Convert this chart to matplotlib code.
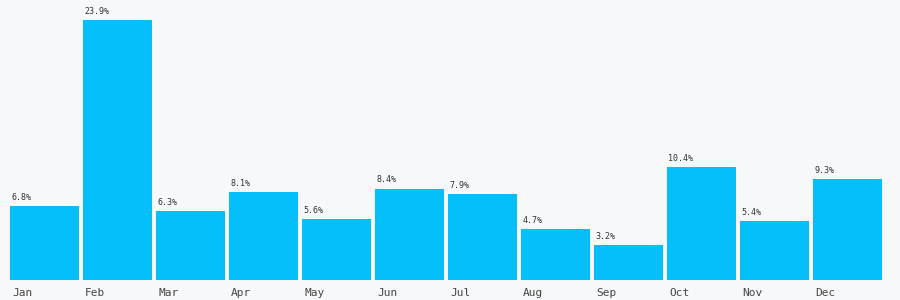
import matplotlib
matplotlib.use("Agg")
import matplotlib.pyplot as plt

months = ["Jan", "Feb", "Mar", "Apr", "May", "Jun",
          "Jul", "Aug", "Sep", "Oct", "Nov", "Dec"]
shares = [6.8, 23.9, 6.3, 8.1, 5.6, 8.4, 7.9, 4.7, 3.2, 10.4, 5.4, 9.3]

bg = "#f7f8fa"
bar_color = "#05bffb"
text_color = "#444444"

fig = plt.figure(figsize=(9, 3), dpi=100, facecolor=bg)
ax = fig.add_axes([10 / 900, 20 / 300, 876 / 900, 260 / 300])
ax.set_facecolor(bg)

x = list(range(len(months)))
ax.bar(x, shares, width=69 / 73, align="edge", color=bar_color, linewidth=0)

for i, (m, v) in enumerate(zip(months, shares)):
    # value label just above the bar, left aligned
    ax.annotate(f"{v}%", xy=(i, v), xytext=(1, 3), textcoords="offset points",
                ha="left", va="bottom", fontsize=6, family="DejaVu Sans Mono",
                color="#333333")
    # month label under the bar
    ax.annotate(m, xy=(i, 0), xytext=(1.5, -5.5), textcoords="offset points",
                ha="left", va="top", fontsize=8, family="DejaVu Sans Mono",
                color=text_color, annotation_clip=False)

ax.set_xlim(0, 12)
ax.set_ylim(0, 23.9)
ax.axis("off")

fig.savefig("out.png", dpi=100, facecolor=bg)
